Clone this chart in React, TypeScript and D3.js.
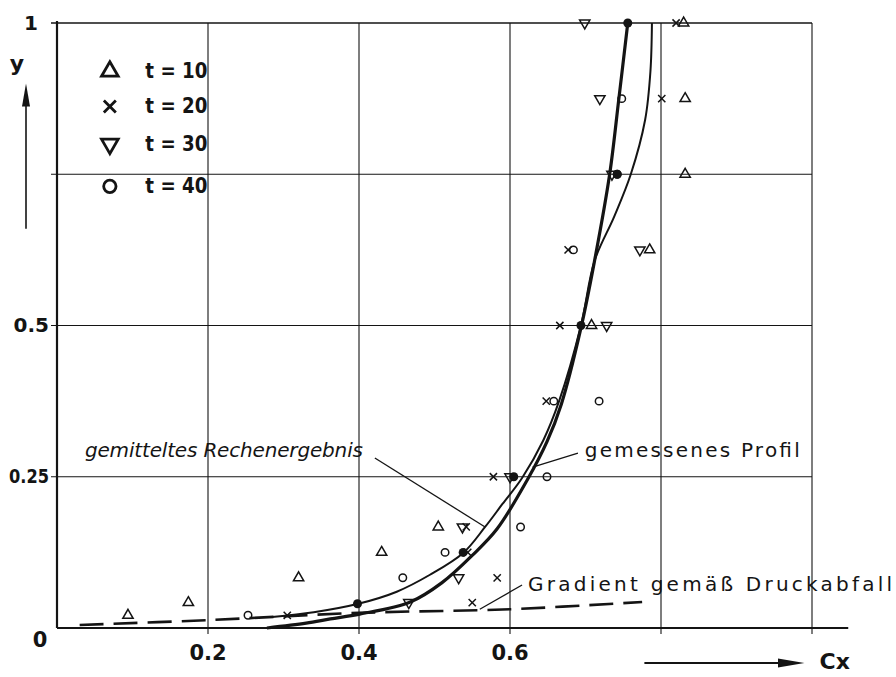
import { useEffect, useRef } from "react";
import * as d3 from "d3";

type Pt = [number, number];

// Messpunkte [cx, y]
const t10: Pt[] = [
  [0.094, 0.021], [0.174, 0.042], [0.32, 0.083], [0.43, 0.125], [0.505, 0.167],
  [0.708, 0.5], [0.785, 0.625], [0.832, 0.75], [0.832, 0.875], [0.83, 1.0],
];
const t20: Pt[] = [
  [0.305, 0.021], [0.55, 0.042], [0.583, 0.083], [0.544, 0.125], [0.542, 0.167],
  [0.578, 0.25], [0.648, 0.375], [0.666, 0.5], [0.677, 0.625], [0.801, 0.875], [0.82, 1.0],
];
const t30: Pt[] = [
  [0.466, 0.042], [0.532, 0.083], [0.537, 0.167], [0.6, 0.25], [0.728, 0.5],
  [0.772, 0.625], [0.735, 0.75], [0.719, 0.875], [0.699, 1.0],
];
const t40: Pt[] = [
  [0.253, 0.021], [0.458, 0.083], [0.514, 0.125], [0.614, 0.167], [0.649, 0.25],
  [0.658, 0.375], [0.718, 0.375], [0.684, 0.625], [0.742, 0.75], [0.748, 0.875],
];
const filledDots: Pt[] = [
  [0.398, 0.04], [0.538, 0.125], [0.605, 0.25], [0.694, 0.5], [0.742, 0.75], [0.756, 1.0],
];

// gemessenes Profil (dicke Linie)
const measured: Pt[] = [
  [0.278, 0], [0.33, 0.008], [0.362, 0.015], [0.401, 0.023], [0.468, 0.043], [0.51, 0.075],
  [0.55, 0.12], [0.583, 0.164], [0.623, 0.245], [0.649, 0.308], [0.668, 0.37], [0.694, 0.496],
  [0.712, 0.607], [0.732, 0.75], [0.744, 0.873], [0.756, 1.0],
];
// gemitteltes Rechenergebnis (dünne Linie)
const computed: Pt[] = [
  [0.285, 0.018], [0.34, 0.026], [0.399, 0.04], [0.45, 0.06], [0.494, 0.088], [0.538, 0.124],
  [0.567, 0.167], [0.59, 0.205], [0.616, 0.248], [0.644, 0.31], [0.665, 0.375], [0.694, 0.5],
  [0.712, 0.607], [0.738, 0.68], [0.76, 0.75], [0.779, 0.84], [0.786, 0.92], [0.788, 1.0],
];
// Gradient gemäß Druckabfall (gestrichelt)
const gradient: Pt[] = [[0.03, 0.005], [0.2, 0.013], [0.4, 0.025], [0.6, 0.031], [0.775, 0.043]];

const xGrid = [0.2, 0.4, 0.6, 0.8, 1.0];
const xLabels = ["0.2", "0.4", "0.6"];
const yGrid = [0.25, 0.5, 0.75, 1.0];
const yLabels: [number, string][] = [[1, "1"], [0.5, "0.5"], [0.25, "0.25"]];
const legend = ["t = 10", "t = 20", "t = 30", "t = 40"];
const notes = ["gemitteltes Rechenergebnis", "gemessenes Profil", "Gradient gemäß Druckabfall"];

const FONT = "'DejaVu Sans', sans-serif";
const INK = "#141414";

export default function App() {
  const ref = useRef<SVGSVGElement>(null);

  useEffect(() => {
    if (!ref.current) return;
    const svg = d3.select(ref.current);
    svg.selectAll("*").remove();

    const x = d3.scaleLinear().domain([0, 1]).range([57, 812]);
    const y = d3.scaleLinear().domain([0, 1]).range([628, 23]);

    svg.append("rect").attr("width", 896).attr("height", 677).attr("fill", "#fff");

    // Gitter
    const g = svg.append("g");
    g.selectAll(".hg").data(yGrid).join("line")
      .attr("x1", x(0) - 6).attr("x2", x(1))
      .attr("y1", (d) => y(d)).attr("y2", (d) => y(d))
      .attr("stroke", INK).attr("stroke-width", (d) => (d === 1 ? 1.6 : 1.1));
    g.selectAll(".vg").data(xGrid).join("line")
      .attr("x1", (d) => x(d)).attr("x2", (d) => x(d))
      .attr("y1", y(1)).attr("y2", y(0) + 6)
      .attr("stroke", INK).attr("stroke-width", 1.1);

    // Achsen
    g.append("line").attr("x1", x(0)).attr("x2", x(0)).attr("y1", y(1) - 2).attr("y2", y(0))
      .attr("stroke", INK).attr("stroke-width", 2.2);
    g.append("line").attr("x1", x(0)).attr("x2", x(1.048)).attr("y1", y(0)).attr("y2", y(0))
      .attr("stroke", INK).attr("stroke-width", 2.2);

    // Achsbeschriftung
    g.selectAll(".xl").data(xLabels).join("text")
      .attr("x", (_, i) => x(xGrid[i])).attr("y", y(0) + 26)
      .attr("text-anchor", "middle").attr("dominant-baseline", "middle")
      .attr("font-family", FONT).attr("font-size", 21).attr("font-weight", "bold")
      .attr("fill", INK).text((d) => d);
    g.selectAll(".yl").data(yLabels).join("text")
      .attr("x", (d) => (d[0] === 1 ? x(0) - 19 : x(0) - 8)).attr("y", (d) => y(d[0]) + 1)
      .attr("text-anchor", "end").attr("dominant-baseline", "middle")
      .attr("font-family", FONT).attr("font-size", 20).attr("font-weight", "bold")
      .attr("textLength", (d) => (d[1] === "0.25" ? 40 : null))
      .attr("lengthAdjust", "spacingAndGlyphs")
      .attr("fill", INK).text((d) => d[1]);
    g.append("text").attr("x", x(0) - 17).attr("y", y(0) + 13)
      .attr("text-anchor", "middle").attr("dominant-baseline", "middle")
      .attr("font-family", FONT).attr("font-size", 21).attr("font-weight", "bold")
      .attr("fill", INK).text("0");

    // y-Pfeil
    g.append("text").attr("x", 17).attr("y", y(0.93))
      .attr("text-anchor", "middle").attr("dominant-baseline", "middle")
      .attr("font-family", FONT).attr("font-size", 22).attr("font-weight", "bold")
      .attr("fill", INK).text("y");
    g.append("line").attr("x1", 26).attr("x2", 26).attr("y1", y(0.66)).attr("y2", y(0.87))
      .attr("stroke", INK).attr("stroke-width", 1.6);
    g.append("path")
      .attr("d", `M26,${y(0.9)} L30,${y(0.862)} L22,${y(0.862)} Z`)
      .attr("fill", INK);

    // Cx-Pfeil
    const ay = y(0) + 35;
    g.append("line").attr("x1", x(0.778)).attr("x2", x(0.96)).attr("y1", ay).attr("y2", ay)
      .attr("stroke", INK).attr("stroke-width", 1.8);
    g.append("path")
      .attr("d", `M${x(0.99)},${ay} L${x(0.955)},${ay - 4.5} L${x(0.955)},${ay + 4.5} Z`)
      .attr("fill", INK);
    g.append("text").attr("x", x(1.01)).attr("y", ay)
      .attr("dominant-baseline", "middle")
      .attr("font-family", FONT).attr("font-size", 22).attr("font-weight", "bold")
      .attr("fill", INK).text("Cx");

    // Kurven
    const line = d3.line<Pt>().x((d) => x(d[0])).y((d) => y(d[1])).curve(d3.curveCatmullRom.alpha(0.5));
    g.append("path").datum(gradient).attr("d", line).attr("fill", "none")
      .attr("stroke", INK).attr("stroke-width", 2.6).attr("stroke-dasharray", "24 10");
    g.append("path").datum(computed).attr("d", line).attr("fill", "none")
      .attr("stroke", INK).attr("stroke-width", 2);
    g.append("path").datum(measured).attr("d", line).attr("fill", "none")
      .attr("stroke", INK).attr("stroke-width", 3.2);

    // Marker
    const tri = d3.symbol().type(d3.symbolTriangle);
    const cross = d3.symbol().type(d3.symbolTimes);
    const circ = d3.symbol().type(d3.symbolCircle);
    const series: { data: Pt[]; sym: d3.Symbol<any, any>; rot: number; size: number }[] = [
      { data: t10, sym: tri, rot: 0, size: 46 },
      { data: t20, sym: cross, rot: 0, size: 36 },
      { data: t30, sym: tri, rot: 180, size: 46 },
      { data: t40, sym: circ, rot: 0, size: 44 },
    ];
    series.forEach((s) => {
      g.append("g").selectAll("path").data(s.data).join("path")
        .attr("d", s.sym.size(s.size)())
        .attr("transform", (d) => `translate(${x(d[0])},${y(d[1])}) rotate(${s.rot})`)
        .attr("fill", "none").attr("stroke", INK).attr("stroke-width", 1.5);
    });
    g.append("g").selectAll("circle").data(filledDots).join("circle")
      .attr("cx", (d) => x(d[0])).attr("cy", (d) => y(d[1])).attr("r", 4.5).attr("fill", INK);

    // Legende
    const ly = [0.92, 0.862, 0.8, 0.73];
    legend.forEach((t, i) => {
      const s = series[i];
      g.append("path").attr("d", s.sym.size(i === 1 ? 95 : 120)())
        .attr("transform", `translate(${x(0.07)},${y(ly[i])}) rotate(${s.rot})`)
        .attr("fill", "none").attr("stroke", INK).attr("stroke-width", 2.8);
      g.append("text").attr("x", x(0.117)).attr("y", y(ly[i]) + 1)
        .attr("dominant-baseline", "middle")
        .attr("font-family", FONT).attr("font-size", 21).attr("font-weight", "bold")
        .attr("textLength", 62).attr("lengthAdjust", "spacingAndGlyphs")
        .attr("fill", INK).text(t);
    });

    // Beschriftungen mit Hinweislinien
    const noteAt: { p: Pt; len: number; italic: boolean; lead: [Pt, Pt] }[] = [
      { p: [0.037, 0.291], len: 278, italic: true, lead: [[0.421, 0.281], [0.567, 0.167]] },
      { p: [0.699, 0.291], len: 215, italic: false, lead: [[0.69, 0.289], [0.63, 0.266]] },
      { p: [0.624, 0.071], len: 364, italic: false, lead: [[0.616, 0.071], [0.56, 0.031]] },
    ];
    notes.forEach((t, i) => {
      const n = noteAt[i];
      g.append("text").attr("x", x(n.p[0])).attr("y", y(n.p[1]))
        .attr("dominant-baseline", "middle")
        .attr("font-family", FONT).attr("font-size", 20)
        .attr("font-style", n.italic ? "italic" : "normal")
        .attr("textLength", n.len).attr("lengthAdjust", "spacing")
        .attr("fill", INK).text(t);
      g.append("line")
        .attr("x1", x(n.lead[0][0])).attr("y1", y(n.lead[0][1]))
        .attr("x2", x(n.lead[1][0])).attr("y2", y(n.lead[1][1]))
        .attr("stroke", INK).attr("stroke-width", 1.3);
    });
  }, []);

  return (
    <svg
      ref={ref}
      width={896}
      height={677}
      style={{ position: "absolute", left: 0, top: 0 }}
    />
  );
}
